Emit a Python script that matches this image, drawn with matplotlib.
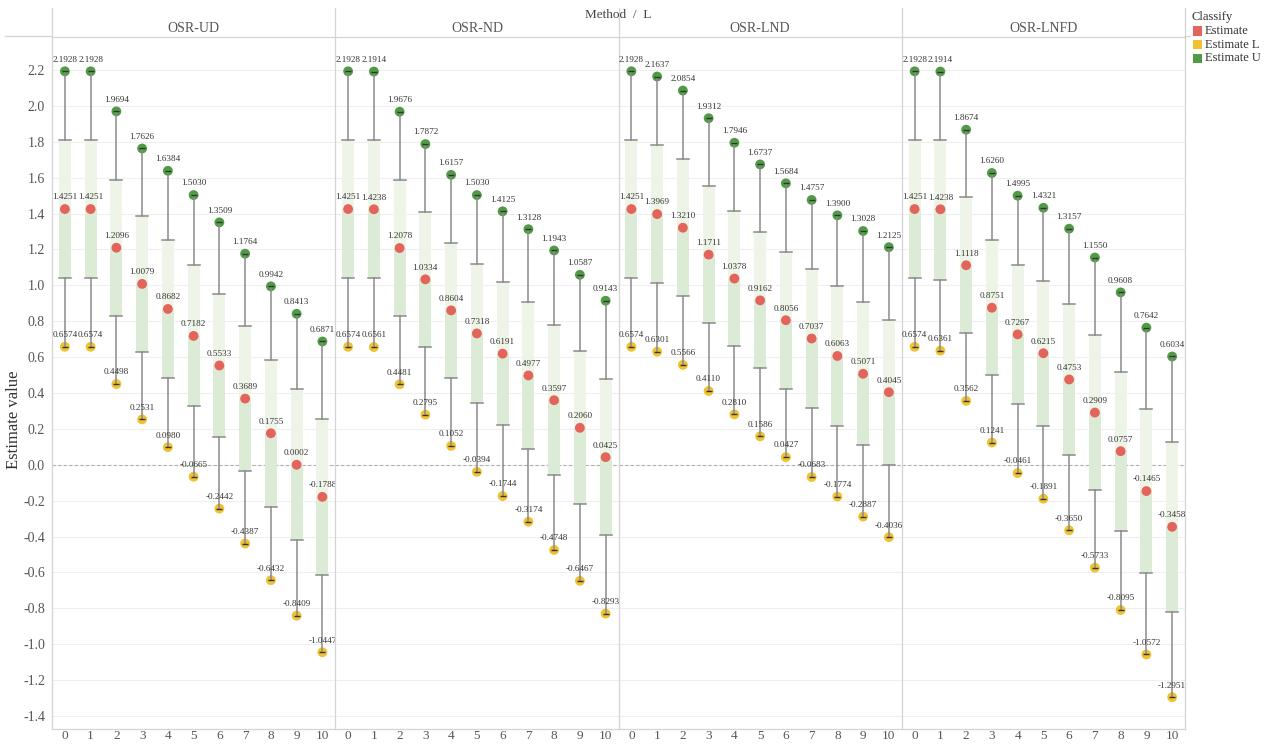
import numpy as np
import matplotlib
matplotlib.use("Agg")
import matplotlib.pyplot as plt
from matplotlib.lines import Line2D
from matplotlib.patches import Rectangle

plt.rcParams['font.family'] = ['Liberation Serif', 'DejaVu Serif']

methods = ["OSR-UD", "OSR-ND", "OSR-LND", "OSR-LNFD"]
L_values = list(range(11))

est_u = {
    "OSR-UD":   [2.1928, 2.1928, 1.9694, 1.7626, 1.6384, 1.5030, 1.3509, 1.1764, 0.9942, 0.8413, 0.6871],
    "OSR-ND":   [2.1928, 2.1914, 1.9676, 1.7872, 1.6157, 1.5030, 1.4125, 1.3128, 1.1943, 1.0587, 0.9143],
    "OSR-LND":  [2.1928, 2.1637, 2.0854, 1.9312, 1.7946, 1.6737, 1.5684, 1.4757, 1.3900, 1.3028, 1.2125],
    "OSR-LNFD": [2.1928, 2.1914, 1.8674, 1.6260, 1.4995, 1.4321, 1.3157, 1.1550, 0.9608, 0.7642, 0.6034],
}
est = {
    "OSR-UD":   [1.4251, 1.4251, 1.2096, 1.0079, 0.8682, 0.7182, 0.5533, 0.3689, 0.1755, 0.0002, -0.1788],
    "OSR-ND":   [1.4251, 1.4238, 1.2078, 1.0334, 0.8604, 0.7318, 0.6191, 0.4977, 0.3597, 0.2060, 0.0425],
    "OSR-LND":  [1.4251, 1.3969, 1.3210, 1.1711, 1.0378, 0.9162, 0.8056, 0.7037, 0.6063, 0.5071, 0.4045],
    "OSR-LNFD": [1.4251, 1.4238, 1.1118, 0.8751, 0.7267, 0.6215, 0.4753, 0.2909, 0.0757, -0.1465, -0.3458],
}
est_l = {
    "OSR-UD":   [0.6574, 0.6574, 0.4498, 0.2531, 0.0980, -0.0665, -0.2442, -0.4387, -0.6432, -0.8409, -1.0447],
    "OSR-ND":   [0.6574, 0.6561, 0.4481, 0.2795, 0.1052, -0.0394, -0.1744, -0.3174, -0.4748, -0.6467, -0.8293],
    "OSR-LND":  [0.6574, 0.6301, 0.5566, 0.4110, 0.2810, 0.1586, 0.0427, -0.0683, -0.1774, -0.2887, -0.4036],
    "OSR-LNFD": [0.6574, 0.6361, 0.3562, 0.1241, -0.0461, -0.1891, -0.3650, -0.5733, -0.8095, -1.0572, -1.2951],
}

classes = ["Estimate", "Estimate L", "Estimate U"]
colors = {"Estimate": "#e3645a", "Estimate L": "#f0c232", "Estimate U": "#4f9c45"}
y_ticks = [round(v, 1) + 0.0 for v in np.arange(-1.4, 2.21, 0.2)]


def tick_text(v):
    if abs(v) < 1e-9:
        v = 0.0
    return f"{v:.1f}"


W, H = 1266, 745
fig = plt.figure(figsize=(W / 100, H / 100), dpi=100)

left_px, right_px, top_px, bottom_px = 52, 1185, 37, 729
px_per_unit = 179.5
y_top = 2.2 + (70 - top_px) / px_per_unit
y_bottom = -1.4 - (bottom_px - 716) / px_per_unit
panel_w = (right_px - left_px) / len(methods)

box_upper = "#eef5e8"
box_lower = "#dcebd6"
whisk = "#8a8a8a"
grid_c = "#efefef"
edge_c = "#d4d4d4"
text_c = "#555555"

for i, m in enumerate(methods):
    x0 = left_px + i * panel_w
    ax = fig.add_axes([x0 / W, 1 - bottom_px / H, panel_w / W, (bottom_px - top_px) / H])
    ax.set_xlim(-0.5, 10.5)
    ax.set_ylim(y_bottom, y_top)
    ax.set_yticks(y_ticks)
    ax.set_xticks(L_values)
    ax.set_xticklabels([str(v) for v in L_values], fontsize=9.5, color=text_c)
    ax.tick_params(axis='both', length=0)
    ax.tick_params(axis='x', pad=1)
    if i == 0:
        ax.set_yticklabels([tick_text(v) for v in y_ticks], fontsize=10, color=text_c)
        ax.tick_params(axis='y', pad=5)
    else:
        ax.set_yticklabels([])
    ax.yaxis.grid(True, color=grid_c, lw=0.8, zorder=0)
    ax.set_axisbelow(True)
    for s in ["left", "right", "top", "bottom"]:
        ax.spines[s].set_color(edge_c)
        ax.spines[s].set_linewidth(0.9)
    if i != len(methods) - 1:
        ax.spines["right"].set_visible(False)
    ax.axhline(0, ls=(0, (3, 2)), color="#b0b0b0", lw=0.8, zorder=1)

    lo = np.array(est_l[m]); md = np.array(est[m]); hi = np.array(est_u[m])
    bw = 0.46
    for k, x in enumerate(L_values):
        vals = np.array([lo[k], md[k], hi[k]])
        q1, q2, q3 = np.percentile(vals, [25, 50, 75])
        ax.add_patch(Rectangle((x - bw / 2, q2), bw, q3 - q2, facecolor=box_upper,
                               edgecolor='none', zorder=2))
        ax.add_patch(Rectangle((x - bw / 2, q1), bw, q2 - q1, facecolor=box_lower,
                               edgecolor='none', zorder=2))
        ax.plot([x - bw / 2, x + bw / 2], [q3, q3], color=whisk, lw=1.1, zorder=3)
        ax.plot([x - bw / 2, x + bw / 2], [q1, q1], color=whisk, lw=1.1, zorder=3)
        ax.plot([x, x], [q3, vals.max()], color=whisk, lw=1.1, zorder=5)
        ax.plot([x, x], [q1, vals.min()], color=whisk, lw=1.1, zorder=5)

    for cls, series in (("Estimate U", hi), ("Estimate", md), ("Estimate L", lo)):
        ax.scatter(L_values, series, s=50, color=colors[cls], edgecolors='none', zorder=4)
        if cls != "Estimate":
            ax.scatter(L_values, series, s=14, marker='_', color="#333333",
                       linewidths=1.0, zorder=6)
        for x, v in zip(L_values, series):
            ax.annotate(f"{v:.4f}", (x, v), xytext=(0, 5.5), textcoords='offset points',
                        ha='center', va='bottom', fontsize=6.6, color="#333333", zorder=7)

    # panel title
    fig.text((x0 + panel_w / 2) / W, 1 - 29 / H, m, ha='center', va='center',
             fontsize=10, color=text_c)

# axis title
fig.text(14 / W, 1 - 420 / H, "Estimate value", rotation=90, ha='center', va='center',
         fontsize=12, color="#333333")

# header
fig.text((left_px + right_px) / 2 / W, 1 - 15 / H, "Method  /  L", ha='center', va='center',
         fontsize=9.5, color="#444444")

# header separators
for i in range(len(methods) + 1):
    xp = (left_px + i * panel_w) / W
    fig.add_artist(Line2D([xp, xp], [1 - 8 / H, 1 - top_px / H], color=edge_c, lw=0.9))
fig.add_artist(Line2D([5 / W, left_px / W], [1 - 36 / H, 1 - 36 / H], color=edge_c, lw=0.9))
fig.add_artist(Line2D([right_px / W, 1190 / W], [1 - 36 / H, 1 - 36 / H], color=edge_c, lw=0.9))

# legend
fig.text(1192 / W, 1 - 17 / H, "Classify", ha='left', va='center', fontsize=9, color="#333333")
for j, cls in enumerate(classes):
    yc = 31 + j * 13.5
    fig.add_artist(Rectangle((1193 / W, 1 - (yc + 4.5) / H), 9 / W, 9 / H,
                             facecolor=colors[cls], edgecolor='none'))
    fig.text(1205 / W, 1 - yc / H, cls, ha='left', va='center', fontsize=9, color="#333333")

fig.savefig("out.png", dpi=100, facecolor="white")
